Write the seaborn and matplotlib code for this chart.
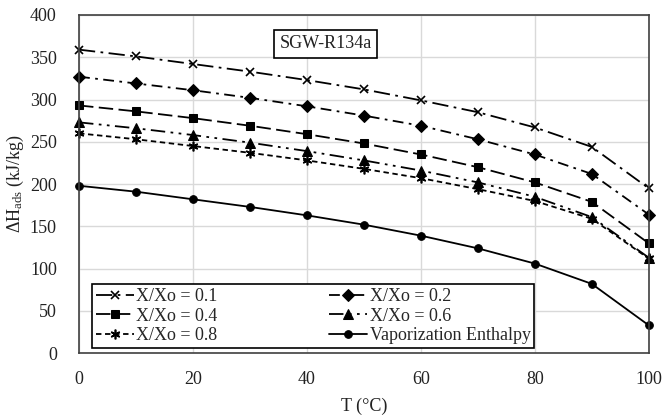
import matplotlib
matplotlib.use("Agg")
import matplotlib.pyplot as plt
import seaborn as sns
import pandas as pd

temps = [0, 10, 20, 30, 40, 50, 60, 70, 80, 90, 100]
h_01 = [359, 351, 342, 333, 323, 312, 299, 285, 267, 244, 195]
h_02 = [327, 319, 311, 302, 292, 281, 269, 253, 235, 212, 164]
h_04 = [293, 286, 278, 269, 259, 248, 235, 220, 202, 179, 130]
h_06 = [273, 266, 258, 249, 239, 228, 216, 202, 185, 161, 113]
h_08 = [260, 253, 245, 237, 228, 218, 207, 194, 180, 159, 112]
h_vap = [198, 191, 182, 173, 163, 152, 139, 124, 106, 82, 33]
labels = ["X/Xo = 0.1", "X/Xo = 0.2", "X/Xo = 0.4", "X/Xo = 0.6", "X/Xo = 0.8", "Vaporization Enthalpy"]

sns.set_theme(style="white")
plt.rcParams['font.family'] = ['Liberation Serif', 'DejaVu Serif']
plt.rcParams['mathtext.fontset'] = 'custom'
plt.rcParams['mathtext.rm'] = 'Liberation Serif'
plt.rcParams['mathtext.it'] = 'Liberation Serif:italic'

FS = 13
fig = plt.figure(figsize=(6.64, 4.16), dpi=100)
ax = fig.add_axes([0.119, 0.151, 0.858, 0.813])

series = [h_01, h_02, h_04, h_06, h_08, h_vap]
styles = [
    dict(marker="x", markersize=6, markeredgewidth=1.2, linestyle=(0, (9, 3, 1.5, 3))),
    dict(marker="D", markersize=6.5, linestyle=(0, (6, 3, 1.5, 3))),
    dict(marker="s", markersize=6, linestyle=(0, (8, 3))),
    dict(marker="^", markersize=7, linestyle=(0, (8, 3, 1.5, 3, 1.5, 3))),
    dict(marker=(6, 2, 0), markersize=7, markeredgewidth=1.2, linestyle=(0, (3, 2))),
    dict(marker="o", markersize=5.5, linestyle="-"),
]
for vals, lab, st in zip(series, labels, styles):
    df = pd.DataFrame({"T": temps, "H": vals})
    sns.lineplot(data=df, x="T", y="H", ax=ax, color="black", linewidth=1.3,
                 markeredgecolor="black", markerfacecolor="black", label=lab,
                 clip_on=False, **st)

ax.set_xlim(0, 100)
ax.set_ylim(0, 400)
ax.set_xticks(range(0, 101, 20))
ax.set_yticks(range(0, 401, 50))
ax.grid(True, color="#d9d9d9", linewidth=1)
ax.set_axisbelow(True)
for s in ax.spines.values():
    s.set_color("#404040")
    s.set_linewidth(1.2)
ax.tick_params(axis="y", labelsize=FS, length=0, pad=16, colors="#222222")
ax.tick_params(axis="x", labelsize=FS, length=0, pad=13, colors="#222222")
ax.set_xlabel("T (°C)", fontsize=FS, color="#222222", labelpad=7)
ax.set_ylabel(r"$\Delta$H$_{\mathrm{ads}}$ (kJ/kg)", fontsize=FS, color="#222222", labelpad=3)

ax.text(0.433, 0.915, "SGW-R134a", transform=ax.transAxes, ha="center", va="center",
        fontsize=FS, color="#222222",
        bbox=dict(boxstyle="square,pad=0.3", facecolor="white", edgecolor="black", linewidth=1.2))

handles, labs = ax.get_legend_handles_labels()
order = [0, 2, 4, 1, 3, 5]
leg = ax.legend([handles[i] for i in order], [labs[i] for i in order],
                loc="lower left", bbox_to_anchor=(0.023, 0.015, 0.776, 0.205), mode="expand",
                ncol=2, fontsize=FS, frameon=True, fancybox=False, handlelength=2.1,
                handletextpad=0.15, borderpad=0.2, labelspacing=0.15, columnspacing=1.0,
                borderaxespad=0)
leg.get_frame().set_edgecolor("black")
leg.get_frame().set_linewidth(1.2)
leg.get_frame().set_alpha(1)
leg.set_zorder(5)

fig.savefig("out.png", dpi=100)
